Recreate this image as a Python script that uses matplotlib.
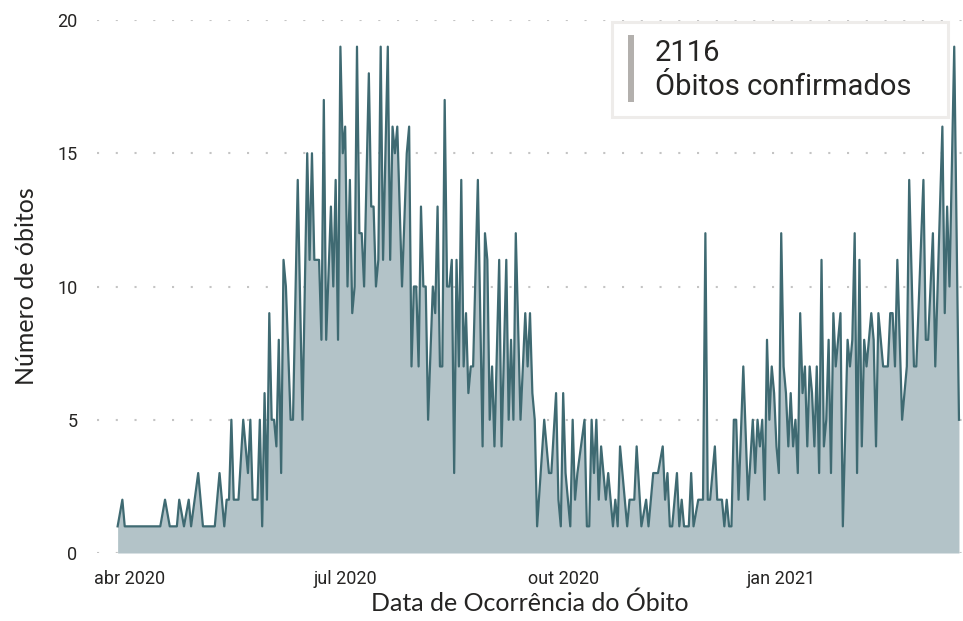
import numpy as np
import pandas as pd
import matplotlib
matplotlib.use("Agg")
import matplotlib.pyplot as plt
import matplotlib.dates as mdates
from matplotlib.patches import Rectangle

# daily confirmed deaths (days without deaths are absent from the series)
start_date = "2020-03-27"
day_offset = [
    0, 2, 3, 18, 20, 22, 25, 26, 28, 30, 31, 34, 36, 41, 43, 45, 46, 47, 48, 49,
    51, 53, 55, 56, 57, 59, 60, 61, 62, 63, 64, 65, 66, 67, 68, 69, 70, 71, 73, 74,
    76, 78, 80, 81, 82, 83, 85, 86, 87, 88, 90, 91, 92, 93, 94, 95, 96, 97, 98, 99,
    100, 101, 102, 103, 104, 106, 107, 108, 109, 110, 111, 112, 114, 115, 116, 117, 118, 120, 122, 123,
    124, 125, 126, 127, 128, 129, 130, 131, 133, 134, 135, 136, 137, 138, 139, 140, 141, 142, 143, 144,
    145, 146, 147, 148, 149, 150, 152, 154, 155, 156, 157, 158, 159, 161, 162, 164, 165, 166, 167, 168,
    170, 172, 173, 174, 175, 176, 177, 180, 182, 183, 185, 186, 187, 188, 189, 191, 192, 193, 194, 197,
    198, 199, 200, 201, 202, 203, 204, 206, 207, 209, 210, 211, 212, 213, 215, 216, 218, 219, 221, 223,
    224, 226, 228, 230, 231, 232, 233, 234, 236, 237, 238, 239, 241, 242, 243, 245, 247, 248, 249, 250,
    252, 253, 255, 256, 257, 258, 259, 260, 261, 262, 264, 266, 268, 269, 270, 271, 272, 273, 274, 275,
    276, 277, 278, 279, 280, 281, 282, 283, 284, 285, 286, 287, 288, 289, 290, 291, 292, 293, 294, 295,
    296, 297, 298, 299, 300, 301, 302, 303, 304, 305, 306, 308, 309, 310, 311, 312, 313, 314, 315, 316,
    317, 318, 319, 320, 321, 322, 323, 325, 326, 327, 328, 329, 331, 333, 334, 336, 337, 340, 341, 342,
    344, 345, 348, 349, 350, 351, 353, 355,
]
deaths = [
    1, 2, 1, 1, 2, 1, 1, 2, 1, 2, 1, 3, 1, 1, 3, 1, 2, 2, 5, 2,
    2, 5, 3, 5, 2, 2, 5, 1, 6, 2, 9, 5, 5, 4, 8, 3, 11, 10, 5, 5,
    14, 5, 15, 11, 15, 11, 11, 8, 17, 8, 13, 10, 14, 8, 19, 15, 16, 10, 14, 9,
    10, 19, 12, 12, 10, 18, 13, 13, 10, 11, 19, 11, 19, 11, 16, 15, 16, 10, 15, 16,
    7, 10, 10, 7, 13, 10, 10, 5, 10, 9, 13, 7, 7, 17, 10, 10, 11, 3, 11, 7,
    14, 7, 9, 6, 7, 7, 14, 4, 12, 11, 5, 7, 4, 11, 4, 11, 5, 8, 5, 12,
    5, 9, 7, 9, 6, 5, 1, 5, 3, 3, 6, 2, 1, 6, 3, 1, 5, 2, 3, 5,
    1, 1, 5, 3, 5, 2, 4, 2, 3, 1, 2, 1, 4, 3, 1, 2, 2, 4, 1, 2,
    1, 3, 3, 4, 2, 3, 1, 1, 3, 1, 2, 1, 1, 3, 1, 2, 2, 12, 2, 2,
    4, 2, 2, 1, 2, 1, 1, 5, 5, 2, 7, 2, 5, 3, 5, 4, 5, 2, 8, 5,
    7, 6, 4, 3, 12, 7, 6, 4, 6, 4, 5, 3, 9, 6, 7, 4, 7, 6, 4, 7,
    3, 11, 4, 5, 8, 3, 9, 7, 8, 9, 1, 8, 7, 8, 12, 3, 11, 4, 8, 7,
    8, 9, 8, 4, 9, 8, 7, 7, 9, 9, 7, 11, 5, 7, 14, 7, 7, 14, 8, 8,
    12, 7, 16, 9, 13, 10, 19, 5,
]
total_label = "2116"
kpi_caption = "Óbitos confirmados"
tick_dates = ["2020-04-01", "2020-07-01", "2020-10-01", "2021-01-01"]
tick_labels = ["abr 2020", "jul 2020", "out 2020", "jan 2021"]
y_ticks = [0, 5, 10, 15, 20]

dates = pd.to_datetime(start_date) + pd.to_timedelta(day_offset, unit="D")

line_color = "#3f6a72"
fill_color = "#b3c3c8"
text_color = "#252423"

fig = plt.figure(figsize=(9.63, 6.21), dpi=100)
ax = fig.add_axes([97 / 963, 1 - 553 / 621, 866 / 963, 533 / 621])

ax.fill_between(dates, deaths, 0, color=fill_color, linewidth=0, zorder=2)
ax.plot(dates, deaths, color=line_color, linewidth=1.6, zorder=3)

# dotted horizontal gridlines
for yv in y_ticks:
    ax.axhline(yv, color="#c4c4c4", linewidth=1.5, linestyle=(0, (1, 8)), zorder=1)

x0 = pd.to_datetime(start_date) - pd.Timedelta(days=8.7)
x1 = pd.to_datetime(start_date) + pd.Timedelta(days=356.7)
ax.set_xlim(x0, x1)
ax.set_ylim(0, 20)

ax.set_xticks(pd.to_datetime(tick_dates))
ax.set_xticklabels(tick_labels)
ax.set_yticks(y_ticks)
ax.set_yticklabels([str(v) for v in y_ticks])
ax.tick_params(length=0, labelsize=13, labelcolor=text_color)
ax.tick_params(axis="x", pad=12)
ax.tick_params(axis="y", pad=14)
for lbl in ax.get_xticklabels() + ax.get_yticklabels():
    lbl.set_family("Roboto")

for s in ax.spines.values():
    s.set_visible(False)

ax.set_xlabel("Data de Ocorrência do Óbito", fontsize=18, color=text_color,
              family="Lato", labelpad=3)
ax.set_ylabel("Número de óbitos", fontsize=18, color=text_color,
              family="Lato", labelpad=14)

# KPI card
card = Rectangle((612 / 963, 1 - 117 / 621), 336 / 963, 95 / 621,
                 transform=fig.transFigure, facecolor="white",
                 edgecolor="#eeecea", linewidth=2.2, zorder=5)
fig.patches.append(card)
bar = Rectangle((628 / 963, 1 - 102 / 621), 6 / 963, 67 / 621,
                transform=fig.transFigure, facecolor="#b3b0ad",
                edgecolor="none", zorder=6)
fig.patches.append(bar)
fig.text(655 / 963, 1 - 53 / 621, total_label, fontsize=21, family="Roboto",
         color=text_color, va="center", ha="left", zorder=7)
fig.text(655 / 963, 1 - 87 / 621, kpi_caption, fontsize=21, family="Roboto",
         color=text_color, va="center", ha="left", zorder=7)

fig.savefig("out.png", dpi=100)
